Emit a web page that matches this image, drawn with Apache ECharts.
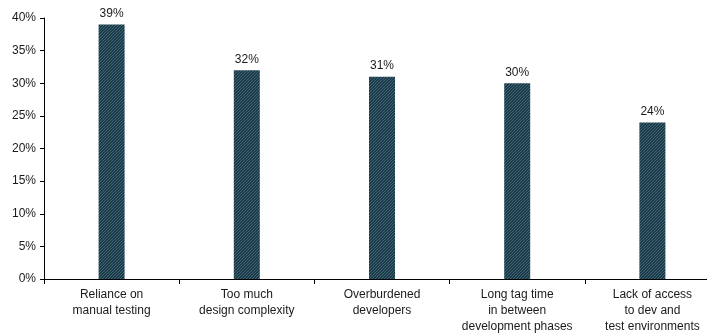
<!DOCTYPE html>
<html>
<head>
<meta charset="utf-8">
<script src="https://cdn.jsdelivr.net/npm/echarts@6/dist/echarts.min.js"></script>
<style>
  html, body { margin: 0; padding: 0; background: #fff; overflow: hidden; width: 707px; height: 335px; }
  /* the plot area runs a little past the right edge of the page */
  #chart { width: 720px; height: 335px; }
</style>
</head>
<body>
<div id="chart"></div>
<script>
// Survey responses: share of respondents citing each challenge
const categories = [
  'Reliance on\nmanual testing',
  'Too much\ndesign complexity',
  'Overburdened\ndevelopers',
  'Long tag time\nin between\ndevelopment phases',
  'Lack of access\nto dev and\ntest environments'
];
const shares = [39, 32, 31, 30, 24];
const yTicks = [0, 5, 10, 15, 20, 25, 30, 35, 40];

const FONT = '"Liberation Sans Narrow", "Liberation Sans", Arial, sans-serif';

// Diagonal hatch fill for the bars
function hatchPattern() {
  const c = document.createElement('canvas');
  c.width = 6; c.height = 6;
  const g = c.getContext('2d');
  g.fillStyle = '#1c3a48';
  g.fillRect(0, 0, 6, 6);
  g.strokeStyle = '#3f6676';
  g.lineWidth = 1;
  for (let k = -6; k <= 12; k += 3) {
    g.beginPath();
    g.moveTo(k, 6);
    g.lineTo(k + 6, 0);
    g.stroke();
  }
  return c;
}

const chart = echarts.init(document.getElementById('chart'), null, { renderer: 'canvas' });
chart.setOption({
  animation: false,
  grid: { left: 44, right: 0, top: 18, bottom: 55, containLabel: false },
  xAxis: {
    type: 'category',
    data: categories,
    boundaryGap: true,
    axisLine: { lineStyle: { color: '#000', width: 1 } },
    axisTick: { show: true, length: 5, lineStyle: { color: '#000' } },
    axisLabel: {
      color: '#1a1a1a', fontFamily: FONT, fontSize: 12,
      lineHeight: 16, margin: 8, interval: 0
    }
  },
  yAxis: {
    type: 'value',
    min: yTicks[0],
    max: yTicks[yTicks.length - 1],
    interval: 5,
    splitLine: { show: false },
    axisLine: { show: true, lineStyle: { color: '#000', width: 1 } },
    axisTick: { show: true, length: 4, lineStyle: { color: '#000' } },
    axisLabel: {
      color: '#1a1a1a', fontFamily: FONT, fontSize: 12, margin: 8,
      formatter: v => v + '%'
    }
  },
  series: [{
    type: 'bar',
    data: shares,
    barWidth: 26,
    itemStyle: { color: { image: hatchPattern(), repeat: 'repeat' } },
    label: {
      show: true, position: 'top', distance: 5,
      color: '#1a1a1a', fontFamily: FONT, fontSize: 12,
      formatter: p => p.value + '%'
    }
  }]
});
</script>
</body>
</html>
